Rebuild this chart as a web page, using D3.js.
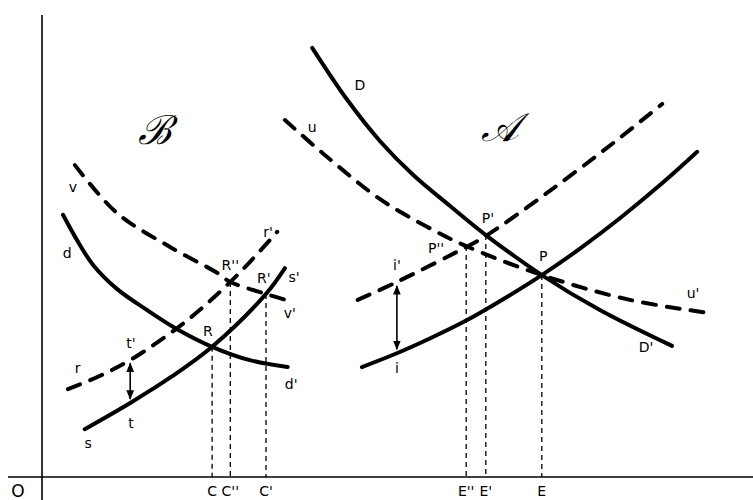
<!DOCTYPE html>
<html>
<head>
<meta charset="utf-8">
<script src="https://cdn.jsdelivr.net/npm/d3@7"></script>
<style>
  html, body { margin: 0; padding: 0; background: #fff; }
  svg { display: block; }
</style>
</head>
<body>
<svg id="chart" width="753" height="500"></svg>
<script>
// ---------- DATA (quantity, price) in chart units ----------
// Market B
const curveB_d = [[3.0,57.0],[5.0,51.5],[7.3,46.1],[10.7,40.9],[15.0,36.3],[19.0,32.4],[24.3,28.3],[29.7,25.4],[35.1,23.9]];
const curveB_v = [[4.7,67.8],[10.7,57.4],[18.3,50.0],[25.0,44.4],[26.9,42.4],[32.0,39.8],[35.9,38.0]];
const curveB_r = [[3.7,19.1],[8.3,22.0],[12.9,25.7],[19.0,32.0],[22.6,36.4],[26.9,42.4],[30.4,47.9],[33.6,53.3]];
const curveB_s = [[6.1,10.4],[12.6,16.1],[18.5,21.8],[24.3,28.3],[32.0,39.8],[34.7,45.4]];
// Market A
const curveA_D = [[38.6,93.3],[43.6,82.0],[48.3,73.0],[53.0,65.7],[58.3,58.9],[63.4,52.6],[71.4,43.9],[79.7,36.3],[90.0,28.5]];
const curveA_u = [[34.7,77.6],[40.1,70.4],[48.3,60.4],[55.0,54.4],[60.6,50.2],[71.4,43.9],[84.0,38.5],[95.1,35.7]];
const curveA_i = [[45.7,23.9],[50.7,26.9],[55.4,30.1],[60.6,34.0],[63.4,36.4],[71.4,43.9],[76.9,49.7],[82.6,56.3],[88.7,64.0],[93.6,70.7]];
const curveA_iPrime = [[45.1,38.5],[50.7,42.4],[60.6,50.0],[63.4,52.4],[72.1,61.7],[81.6,72.6],[88.6,81.1]];

// Equilibrium points dropped to the quantity axis
const dropPoints = ["R","R''","R'","P''","P'","P"];
const dropQty    = [24.3, 26.9, 32.0, 60.6, 63.4, 71.4];
const dropPrice  = [28.3, 42.4, 39.8, 50.2, 52.6, 43.9];
const tickLabels = ["C","C''","C'","E''","E'","E"];

// Tax wedges (quantity, low price, high price)
const wedgeNames = ["t","i"];
const wedgeQty   = [12.6, 50.7];
const wedgeLow   = [16.1, 26.9];
const wedgeHigh  = [25.6, 42.4];

// Text labels and where they sit (chart units)
const labelText = ["v","d","r'","R''","R'","s'","v'","R","t'","r","t","s","d'",
                   "D","u","P'","P''","P","i'","i","D'","u'"];
const labelQty  = [4.4,3.6,32.3,26.9,31.7,36.0,35.4,23.7,12.7,5.1,12.7,6.6,35.6,
                   45.4,38.6,63.7,56.3,71.6,50.7,50.7,86.3,93.0];
const labelPrice= [63.0,48.7,53.3,46.1,43.3,43.5,35.7,31.7,29.1,23.7,11.7,7.4,20.2,
                   85.2,76.1,56.3,49.8,48.0,46.1,23.7,28.3,40.0];
const panelTitles = ["\u212C","\u{1D49C}"];
const panelTitleQty = [16.1, 65.4];
const panelTitlePrice = [75.4, 76.1];

// ---------- DRAWING ----------
const svg = d3.select("#chart");
const x = d3.scaleLinear().domain([0, 100]).range([42, 742]);
const y = d3.scaleLinear().domain([0, 100]).range([477, 17]);

// axes
svg.append("line").attr("x1", 8).attr("x2", 753).attr("y1", y(0)).attr("y2", y(0))
  .attr("stroke", "#000").attr("stroke-width", 1.6);
svg.append("line").attr("x1", x(0)).attr("x2", x(0)).attr("y1", 15).attr("y2", 500)
  .attr("stroke", "#000").attr("stroke-width", 1.6);
svg.append("text").attr("x", 18).attr("y", 491).text("O")
  .attr("font-family", "DejaVu Sans").attr("font-size", 17)
  .attr("text-anchor", "middle").attr("dominant-baseline", "central");

// drop lines
dropQty.forEach((q, i) => {
  svg.append("line")
    .attr("x1", x(q)).attr("x2", x(q))
    .attr("y1", y(dropPrice[i])).attr("y2", y(0))
    .attr("stroke", "#000").attr("stroke-width", 1.3)
    .attr("stroke-dasharray", "5,4");
  svg.append("text").attr("x", x(q)).attr("y", 491).text(tickLabels[i])
    .attr("font-family", "DejaVu Sans").attr("font-size", 14)
    .attr("text-anchor", "middle").attr("dominant-baseline", "central");
});

const line = d3.line().x(d => x(d[0])).y(d => y(d[1])).curve(d3.curveCatmullRom.alpha(0.5));
const curves = [
  {pts: curveB_d, dashed: false}, {pts: curveB_v, dashed: true},
  {pts: curveB_r, dashed: true},  {pts: curveB_s, dashed: false},
  {pts: curveA_D, dashed: false}, {pts: curveA_u, dashed: true},
  {pts: curveA_i, dashed: false}, {pts: curveA_iPrime, dashed: true}
];
curves.forEach(c => {
  svg.append("path").attr("d", line(c.pts))
    .attr("fill", "none").attr("stroke", "#000").attr("stroke-width", 4)
    .attr("stroke-linecap", "round")
    .attr("stroke-dasharray", c.dashed ? "13,11" : null);
});

// wedge arrows
const defs = svg.append("defs");
defs.append("marker").attr("id", "ah").attr("viewBox", "0 0 10 10")
  .attr("refX", 9).attr("refY", 5).attr("markerWidth", 6).attr("markerHeight", 6)
  .attr("orient", "auto-start-reverse")
  .append("path").attr("d", "M0,1 L10,5 L0,9 Z").attr("fill", "#000");
wedgeQty.forEach((q, i) => {
  svg.append("line").attr("x1", x(q)).attr("x2", x(q))
    .attr("y1", y(wedgeLow[i]) - 4).attr("y2", y(wedgeHigh[i]) + 4)
    .attr("stroke", "#000").attr("stroke-width", 1.6)
    .attr("marker-start", "url(#ah)").attr("marker-end", "url(#ah)");
});

// labels
labelText.forEach((t, i) => {
  svg.append("text").attr("x", x(labelQty[i])).attr("y", y(labelPrice[i])).text(t)
    .attr("font-family", "DejaVu Sans").attr("font-size", 14)
    .attr("text-anchor", "middle").attr("dominant-baseline", "central");
});
panelTitles.forEach((t, i) => {
  svg.append("text").attr("x", x(panelTitleQty[i])).attr("y", y(panelTitlePrice[i])).text(t)
    .attr("font-family", "DejaVu Serif").attr("font-style", "italic").attr("font-size", 40)
    .attr("text-anchor", "middle").attr("dominant-baseline", "central");
});
</script>
</body>
</html>
